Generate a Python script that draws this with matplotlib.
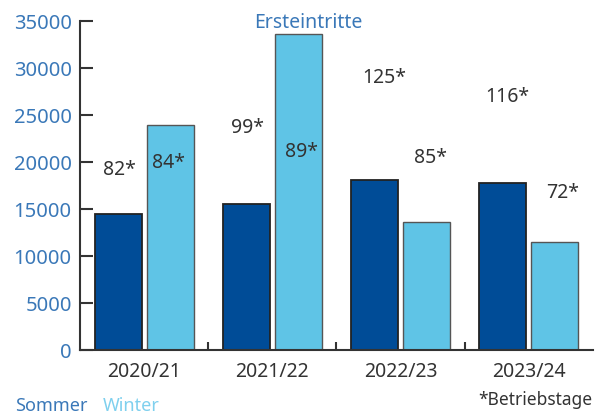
import numpy as np
import matplotlib.pyplot as plt

plt.rcParams['font.family'] = ['Noto Sans', 'DejaVu Sans']

seasons = ['2020/21', '2021/22', '2022/23', '2023/24']
sommer = [14400, 15500, 18000, 17700]
winter = [23900, 33600, 13600, 11400]
sommer_tage = ['82*', '99*', '125*', '116*']
winter_tage = ['84*', '89*', '85*', '72*']
# label positions (group offset, value)
sommer_lab_x = [-0.19, -0.19, -0.13, -0.17]
sommer_lab_y = [19200, 23700, 29000, 27000]
winter_lab_x = [0.19, 0.23, 0.23, 0.26]
winter_lab_y = [20000, 21100, 20500, 16800]

dark = '#004c97'
light = '#5fc4e6'
blue_txt = '#3a78b8'
grey_txt = '#333333'

fig = plt.figure(figsize=(5.95, 4.14), dpi=100)
ax = fig.add_axes([0.1345, 0.153, 0.862, 0.795])

x = np.arange(len(seasons))
w = 0.367
ax.bar(x - w / 2 - 0.02, sommer, w, color=dark, edgecolor='#222222', linewidth=1.3)
ax.bar(x + w / 2 + 0.02, winter, w, color=light, edgecolor='#555555', linewidth=1.0)

for i in range(len(seasons)):
    ax.text(i + sommer_lab_x[i], sommer_lab_y[i], sommer_tage[i], ha='center', va='center',
            fontsize=14, color=grey_txt)
    ax.text(i + winter_lab_x[i], winter_lab_y[i], winter_tage[i], ha='center', va='center',
            fontsize=14, color=grey_txt)

ax.set_xlim(-0.5, 3.5)
ax.set_ylim(0, 35000)
ax.set_yticks(range(0, 35001, 5000))
ax.tick_params(axis='y', direction='in', length=9, width=1.5, colors='#333333',
               labelcolor=blue_txt, labelsize=14.5, pad=6)
ax.set_xticks(x)
ax.set_xticklabels(seasons)
ax.set_xticks([0.5, 1.5, 2.5], minor=True)
ax.tick_params(axis='x', which='major', length=0, labelsize=14, labelcolor=grey_txt, pad=8)
ax.tick_params(axis='x', which='minor', direction='in', length=6, width=1.5, color='#333333')

for s in ['top', 'right']:
    ax.spines[s].set_visible(False)
ax.spines['left'].set_linewidth(1.5)
ax.spines['bottom'].set_linewidth(1.5)
ax.spines['left'].set_color('#333333')
ax.spines['bottom'].set_color('#333333')

fig.text(0.518, 0.945, 'Ersteintritte', ha='center', va='center', fontsize=14, color=blue_txt)
fig.text(0.025, 0.02, 'Sommer', ha='left', va='center', fontsize=13, color=blue_txt)
fig.text(0.173, 0.02, 'Winter', ha='left', va='center', fontsize=13, color='#7fd0ee')
fig.text(0.803, 0.035, '*Betriebstage', ha='left', va='center', fontsize=12.5, color=grey_txt)

fig.savefig('out.png', dpi=100)
